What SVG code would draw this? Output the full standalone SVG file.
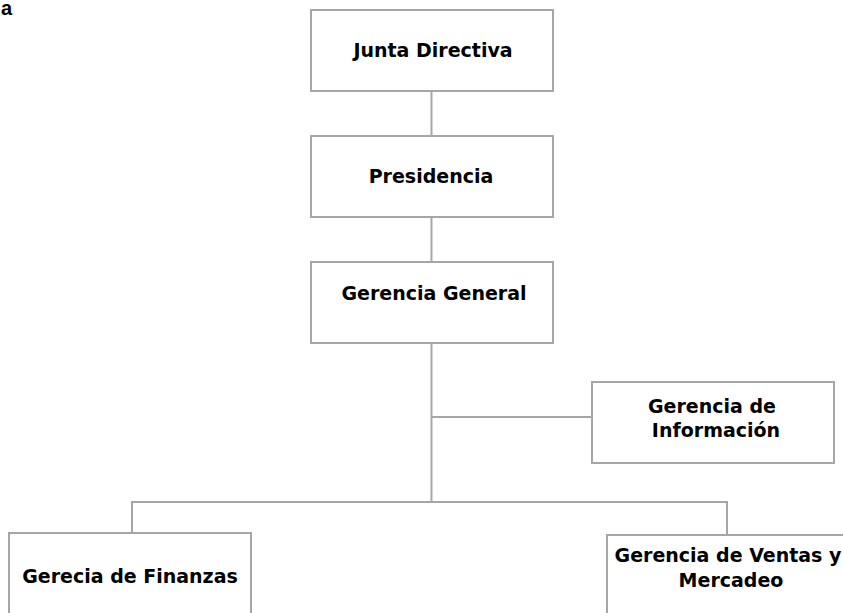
<svg xmlns="http://www.w3.org/2000/svg" width="843" height="613" viewBox="0 0 843 613">
<style>
.box{fill:#fff;stroke:#a6a6a6;stroke-width:2}
.lbl{font-family:"DejaVu Sans",Verdana,sans-serif;font-weight:bold;font-size:19px;fill:#000;text-anchor:middle}
.conn{fill:none;stroke:#a6a6a6;stroke-width:2}
</style>
<rect width="843" height="613" fill="#fff"/>
<text x="1" y="15" font-family="Liberation Sans, Arial, sans-serif" font-weight="bold" font-size="20">a</text>
<g id="connectors">
<line class="conn" x1="431.5" y1="91" x2="431.5" y2="136"/>
<line class="conn" x1="431.5" y1="217" x2="431.5" y2="262"/>
<line class="conn" x1="431.5" y1="343" x2="431.5" y2="502"/>
<line class="conn" x1="431.5" y1="417" x2="592" y2="417"/>
<polyline class="conn" points="132,533 132,502 727,502 727,535"/>
</g>
<g id="junta">
<rect class="box" x="311" y="10" width="242" height="81"/>
<text class="lbl" x="433" y="57">Junta Directiva</text>
</g>
<g id="presidencia">
<rect class="box" x="311" y="136" width="242" height="81"/>
<text class="lbl" x="431" y="183">Presidencia</text>
</g>
<g id="gerencia-general">
<rect class="box" x="311" y="262" width="242" height="81"/>
<text class="lbl" x="434" y="300">Gerencia General</text>
</g>
<g id="gerencia-informacion">
<rect class="box" x="592" y="382" width="242" height="81"/>
<text class="lbl" x="712" y="413">Gerencia de</text>
<text class="lbl" x="716" y="437">Información</text>
</g>
<g id="finanzas">
<rect class="box" x="9" y="533" width="242" height="100"/>
<text class="lbl" x="130" y="583">Gerecia de Finanzas</text>
</g>
<g id="ventas">
<rect class="box" x="607" y="535" width="242" height="100"/>
<text class="lbl" x="728" y="562">Gerencia de Ventas y</text>
<text class="lbl" x="731" y="587">Mercadeo</text>
</g>
</svg>
